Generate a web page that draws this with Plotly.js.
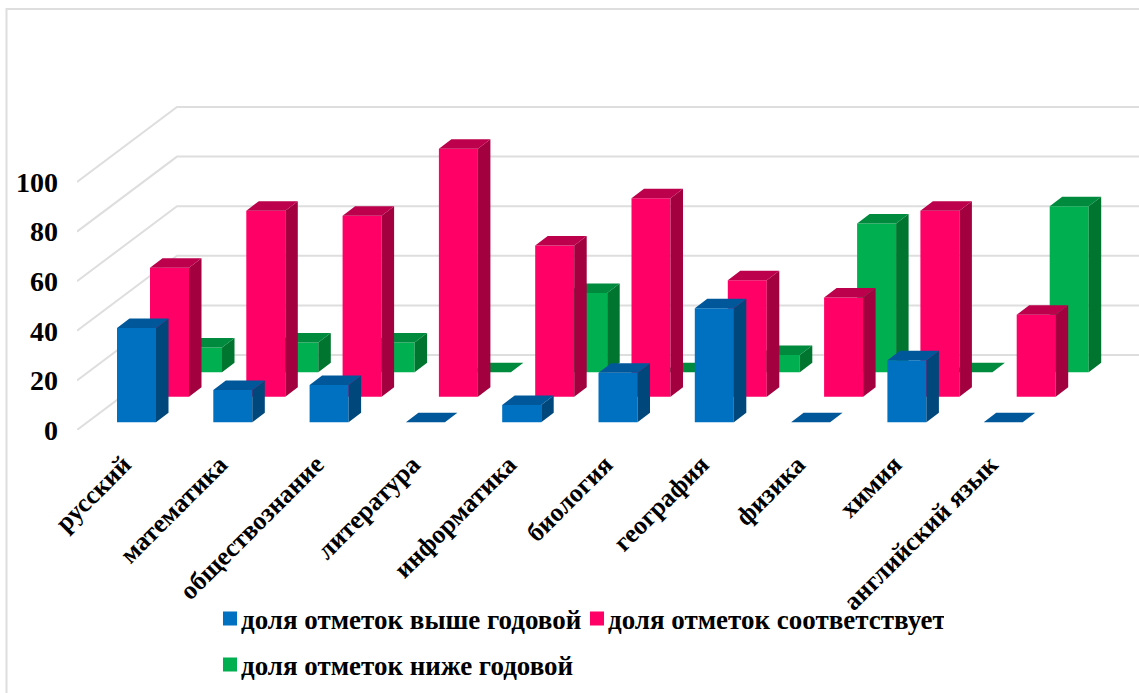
<!DOCTYPE html>
<html><head><meta charset="utf-8">
<script src="https://cdn.plot.ly/plotly-3.0.1.min.js"></script>
<style>
html,body{margin:0;padding:0;background:#fff;overflow:hidden}
.legendtext,.legend2text{transform:translateX(-9px)}
.legendpoints path{transform:translate(20px,0) scale(1.17)}
</style></head><body>
<div id="chart" style="width:1139px;height:693px"></div>
<script>
const categories = ["русский","математика","обществознание","литература","информатика","биология","география","физика","химия","английский язык"];
const seriesAbove = [38,13,15,0,7,20,46,0,25,0];
const seriesMatch = [52,75,73,100,61,80,47,40,75,33];
const seriesBelow = [10,12,12,0,32,0,7,60,0,67];
const yTicks = [0,20,40,60,80,100];

const W=1139,H=693,L=77,B=430;
const pxCat=96.3, pxVal=2.48, c0=136.5;
const FONT="Liberation Serif";
const xMain=[(L-c0)/pxCat,(W-c0)/pxCat];
const yMain=[0,B/pxVal];
const idx=categories.map((_,i)=>i);
const hw=19.5/pxCat, dx=12.5/pxCat, dy=9.5/pxVal;

function planes(ox,base){
  return {x:[xMain[0]-ox/pxCat,xMain[1]-ox/pxCat], y:[yMain[0]-(B-base)/pxVal,yMain[1]-(B-base)/pxVal]};
}
function series3d(name,vals,front,side,top,n,legend){
  const xa=n===1?'x':'x'+n, ya=n===1?'y':'y'+n;
  const sx=[],sy=[],tx=[],ty=[];
  vals.forEach((v,i)=>{
    sx.push(i+hw,i+hw+dx,i+hw+dx,i+hw,i+hw,null);
    sy.push(0,dy,v+dy,v,0,null);
    tx.push(i-hw,i-hw+dx,i+hw+dx,i+hw,i-hw,null);
    ty.push(v,v+dy,v+dy,v,v,null);
  });
  return [
    {type:'bar',name:name,x:idx,y:vals,width:2*hw,marker:{color:front,line:{width:0}},xaxis:xa,yaxis:ya,legend:legend,hoverinfo:'skip'},
    {type:'scatter',mode:'lines',x:sx,y:sy,fill:'toself',fillcolor:side,line:{width:0,color:side},xaxis:xa,yaxis:ya,showlegend:false,hoverinfo:'skip'},
    {type:'scatter',mode:'lines',x:tx,y:ty,fill:'toself',fillcolor:top,line:{width:0,color:top},xaxis:xa,yaxis:ya,showlegend:false,hoverinfo:'skip'}
  ];
}
const gx=[],gy=[];
yTicks.forEach(v=>{
  gx.push(xMain[0],xMain[0]+100/pxCat,xMain[1],null);
  gy.push(v,v+75/pxVal,v+75/pxVal,null);
});
const grid={type:'scatter',mode:'lines',x:gx,y:gy,line:{color:'#DEDEDE',width:2},showlegend:false,hoverinfo:'skip',xaxis:'x',yaxis:'y'};

const pG=planes(66,372.3), pP=planes(33,396.7), pB=planes(0,422.3);
const traces=[grid,
  ...series3d("доля отметок ниже годовой",seriesBelow,'#00B050','#00752F','#008A3E',2,'legend2'),
  ...series3d("доля отметок соответствует",seriesMatch,'#FF0066','#A3003F','#BD004C',3,'legend'),
  ...series3d("доля отметок выше годовой",seriesAbove,'#0070C0','#00477C','#00589A',4,'legend')
];
const hidden={visible:false,fixedrange:true};
const legendFont={family:FONT,size:27,weight:700,color:'#000'};
const layout={
  width:W,height:H,paper_bgcolor:'#fff',plot_bgcolor:'rgba(0,0,0,0)',
  margin:{l:L,r:0,t:0,b:H-B,pad:0,autoexpand:false},
  barmode:'overlay',showlegend:true,
  xaxis:{range:xMain,tickmode:'array',tickvals:idx,ticktext:categories,tickangle:-45,ticklen:0,
    showgrid:false,zeroline:false,showline:false,
    tickfont:{family:FONT,size:26,weight:700,color:'#000'},ticklabelstandoff:13,ticklabelshift:-13,fixedrange:true},
  yaxis:{range:yMain,tickmode:'array',tickvals:yTicks,ticklen:0,showgrid:false,zeroline:false,showline:false,
    tickfont:{family:FONT,size:28,weight:700,color:'#000'},ticklabelstandoff:18,fixedrange:true},
  xaxis2:{...hidden,overlaying:'x',range:pG.x},yaxis2:{...hidden,overlaying:'y',range:pG.y},
  xaxis3:{...hidden,overlaying:'x',range:pP.x},yaxis3:{...hidden,overlaying:'y',range:pP.y},
  xaxis4:{...hidden,overlaying:'x',range:pB.x},yaxis4:{...hidden,overlaying:'y',range:pB.y},
  legend:{orientation:'h',traceorder:'reversed',x:(210-L)/(W-L),xanchor:'left',y:(B-619)/B,yanchor:'middle',
    font:legendFont,entrywidth:322,entrywidthmode:'pixels',bgcolor:'rgba(0,0,0,0)',borderwidth:0},
  legend2:{orientation:'h',x:(210-L)/(W-L),xanchor:'left',y:(B-665)/B,yanchor:'middle',
    font:legendFont,bgcolor:'rgba(0,0,0,0)',borderwidth:0},
  shapes:[{type:'path',xref:'paper',yref:'paper',
    path:`M ${(6.5-L)/(W-L)},${(B-H)/B} L ${(6.5-L)/(W-L)},${(B-9)/B} L 1,${(B-9)/B}`,
    line:{color:'#DEDEDE',width:2},layer:'below'}]
};
Plotly.newPlot('chart',traces,layout,{displayModeBar:false,staticPlot:true});
</script></body></html>
